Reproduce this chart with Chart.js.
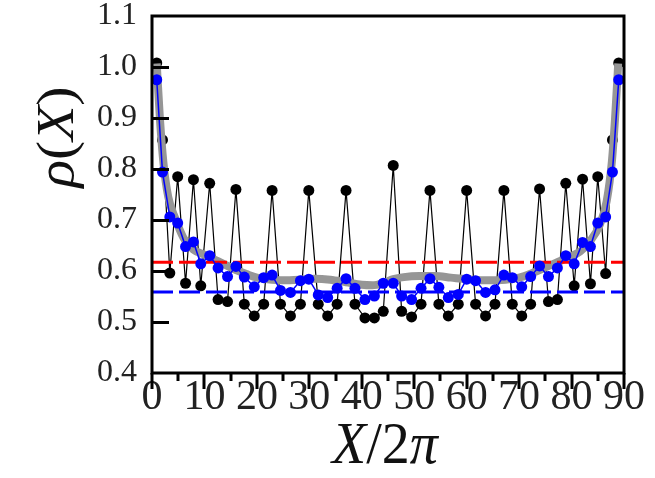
<!DOCTYPE html>
<html>
<head>
<meta charset="utf-8">
<script src="https://cdn.jsdelivr.net/npm/chart.js@4/dist/chart.umd.min.js"></script>
<style>
html,body{margin:0;padding:0;background:#fff;}
#c{display:block;}
</style>
</head>
<body>
<canvas id="c" width="655" height="478"></canvas>
<script>
// ---- data ----
const xPos = [0.9,2.0,3.4,4.9,6.4,7.9,9.3,11.0,12.6,14.4,16.0,17.6,19.5,21.3,22.9,24.5,26.4,28.3,29.9,31.7,33.5,35.3,37.0,38.7,40.6,42.4,44.1,
              46.0,47.6,49.5,51.3,53.0,54.7,56.5,58.4,60.0,61.7,63.6,65.4,67.1,68.7,70.5,72.2,73.9,75.6,77.3,78.9,80.5,82.1,83.6,85.0,86.5,87.8,89.0];
const blackVals = [1.008,0.857,0.596,0.785,0.576,0.779,0.571,0.772,0.544,0.540,0.760,0.535,0.512,0.535,0.758,0.535,0.512,0.535,0.758,0.535,0.512,0.535,0.758,0.535,0.508,0.508,0.521,
                   0.807,0.521,0.510,0.535,0.758,0.535,0.512,0.535,0.758,0.535,0.512,0.535,0.758,0.535,0.512,0.535,0.761,0.540,0.544,0.772,0.571,0.780,0.575,0.785,0.595,0.857,1.008];
const blueVals = [0.975,0.794,0.706,0.694,0.648,0.657,0.614,0.630,0.606,0.589,0.609,0.588,0.569,0.587,0.592,0.562,0.558,0.581,0.584,0.553,0.548,0.566,0.585,0.566,0.544,0.551,0.576,
                  0.576,0.551,0.544,0.566,0.585,0.568,0.548,0.554,0.584,0.581,0.558,0.563,0.592,0.587,0.569,0.589,0.610,0.589,0.606,0.630,0.614,0.656,0.648,0.694,0.706,0.794,0.975];
const grayX = [0.9,1.5,2.2,3.1,4.4,6.0,7.9,10,12,14,16,18,20,22,25,28,31,34,37,40,42,44,46,48,51,54,57,60,63,66,69,71,73,75,77,79.7,81.6,83.5,85.4,86.7,87.7,88.3,88.9];
const grayVals = [1.007,0.90,0.81,0.745,0.704,0.665,0.642,0.632,0.622,0.612,0.602,0.594,0.587,0.584,0.582,0.583,0.585,0.583,0.578,0.573,0.572,0.576,0.584,0.588,0.590,0.590,0.587,0.584,0.582,0.582,0.585,0.590,0.598,0.607,0.616,0.628,0.638,0.658,0.691,0.737,0.816,0.90,1.007];
const refRed = 0.617;
const refBlue = 0.559;
const xRange = [0, 90];
const yRange = [0.4, 1.1];

const toPts = (xs, ys) => xs.map((x, i) => ({x: x, y: ys[i]}));
const hLine = (v) => [{x: xRange[0], y: v}, {x: xRange[1], y: v}];

const SERIF = '"Liberation Serif", "DejaVu Serif", serif';

const decor = {
  id: 'decor',
  afterDraw(chart) {
    const ctx = chart.ctx;
    const a = chart.chartArea;
    const xs = chart.scales.x, ys = chart.scales.y;
    ctx.save();
    ctx.strokeStyle = '#000';
    ctx.lineWidth = 3;
    ctx.strokeRect(a.left, a.top, a.right - a.left, a.bottom - a.top);
    // y ticks (inward)
    for (let v = 0.5; v < 1.05; v += 0.1) {
      const p = Math.round(ys.getPixelForValue(v)) + 0.5;
      ctx.beginPath(); ctx.moveTo(a.left, p); ctx.lineTo(a.left + 17, p); ctx.stroke();
    }
    // x ticks (outward)
    for (let v = 0; v <= 90; v += 5) {
      const p = Math.round(xs.getPixelForValue(v));
      const len = (v % 10 === 0) ? 16 : 8;
      ctx.beginPath(); ctx.moveTo(p, a.bottom); ctx.lineTo(p, a.bottom + len); ctx.stroke();
    }
    ctx.fillStyle = '#111';
    ctx.textBaseline = 'alphabetic';
    // x title: X/2π
    const xt = [['italic 50px ' + SERIF, 'X'], ['50px ' + SERIF, '/2'], ['italic 50px ' + SERIF, 'π']];
    let w = 0;
    xt.forEach(s => { ctx.font = s[0]; w += ctx.measureText(s[1]).width; });
    ctx.save();
    ctx.translate(385, 463);
    ctx.scale(1.12, 1.18);
    let cx = -w / 2;
    xt.forEach(s => { ctx.font = s[0]; ctx.textAlign = 'left'; ctx.fillText(s[1], cx, 0); cx += ctx.measureText(s[1]).width; });
    ctx.restore();
    // y title: ρ(X)
    const yt = [['italic 50px ' + SERIF, 'ρ'], ['50px ' + SERIF, '('], ['italic 50px ' + SERIF, 'X'], ['50px ' + SERIF, ')']];
    w = 0;
    yt.forEach(s => { ctx.font = s[0]; w += ctx.measureText(s[1]).width; });
    ctx.save();
    ctx.translate(73, 137);
    ctx.rotate(-Math.PI / 2);
    ctx.scale(1.15, 1.05);
    cx = -w / 2;
    yt.forEach(s => { ctx.font = s[0]; ctx.textAlign = 'left'; ctx.fillText(s[1], cx, 0); cx += ctx.measureText(s[1]).width; });
    ctx.restore();
    ctx.restore();
  }
};

new Chart(document.getElementById('c'), {
  type: 'scatter',
  data: {
    datasets: [
      {
        label: 'black', data: toPts(xPos, blackVals), showLine: true,
        borderColor: '#000', backgroundColor: '#000', borderWidth: 1.2,
        pointRadius: 5.5, pointBorderWidth: 0, order: 5
      },
      {
        label: 'gray', data: toPts(grayX, grayVals), showLine: true,
        borderColor: 'rgb(150,150,150)', borderWidth: 8, pointRadius: 0,
        cubicInterpolationMode: 'monotone', order: 4
      },
      {
        label: 'refRed', data: hLine(refRed), showLine: true,
        borderColor: '#ff0000', borderWidth: 3, borderDash: [21, 6], pointRadius: 0, order: 3
      },
      {
        label: 'refBlue', data: hLine(refBlue), showLine: true,
        borderColor: '#0000ff', borderWidth: 3, borderDash: [21, 6], pointRadius: 0, order: 2
      },
      {
        label: 'blue', data: toPts(xPos, blueVals), showLine: true,
        borderColor: '#0000ff', backgroundColor: '#0000ff', borderWidth: 1.5,
        pointRadius: 5.5, pointBorderWidth: 0, order: 1
      }
    ]
  },
  options: {
    responsive: false,
    animation: false,
    layout: {padding: {top: 16, right: 31, left: 0, bottom: 0}},
    plugins: {legend: {display: false}, tooltip: {enabled: false}},
    scales: {
      x: {
        type: 'linear', min: xRange[0], max: xRange[1],
        grid: {display: false, drawTicks: false},
        border: {display: false},
        ticks: {stepSize: 10, padding: 0, color: '#222', font: {family: SERIF, size: 42}},
        afterFit(s) { s.height = 105; s.paddingLeft = 0; s.paddingRight = 0; }
      },
      y: {
        type: 'linear', min: yRange[0], max: yRange[1],
        grid: {display: false, drawTicks: false},
        border: {display: false},
        ticks: {stepSize: 0.1, padding: 15, color: '#222', font: {family: SERIF, size: 32},
                callback: (v) => v.toFixed(1)},
        afterFit(s) { s.width = 152; s.paddingTop = 0; s.paddingBottom = 0; }
      }
    }
  },
  plugins: [decor]
});
</script>
</body>
</html>
